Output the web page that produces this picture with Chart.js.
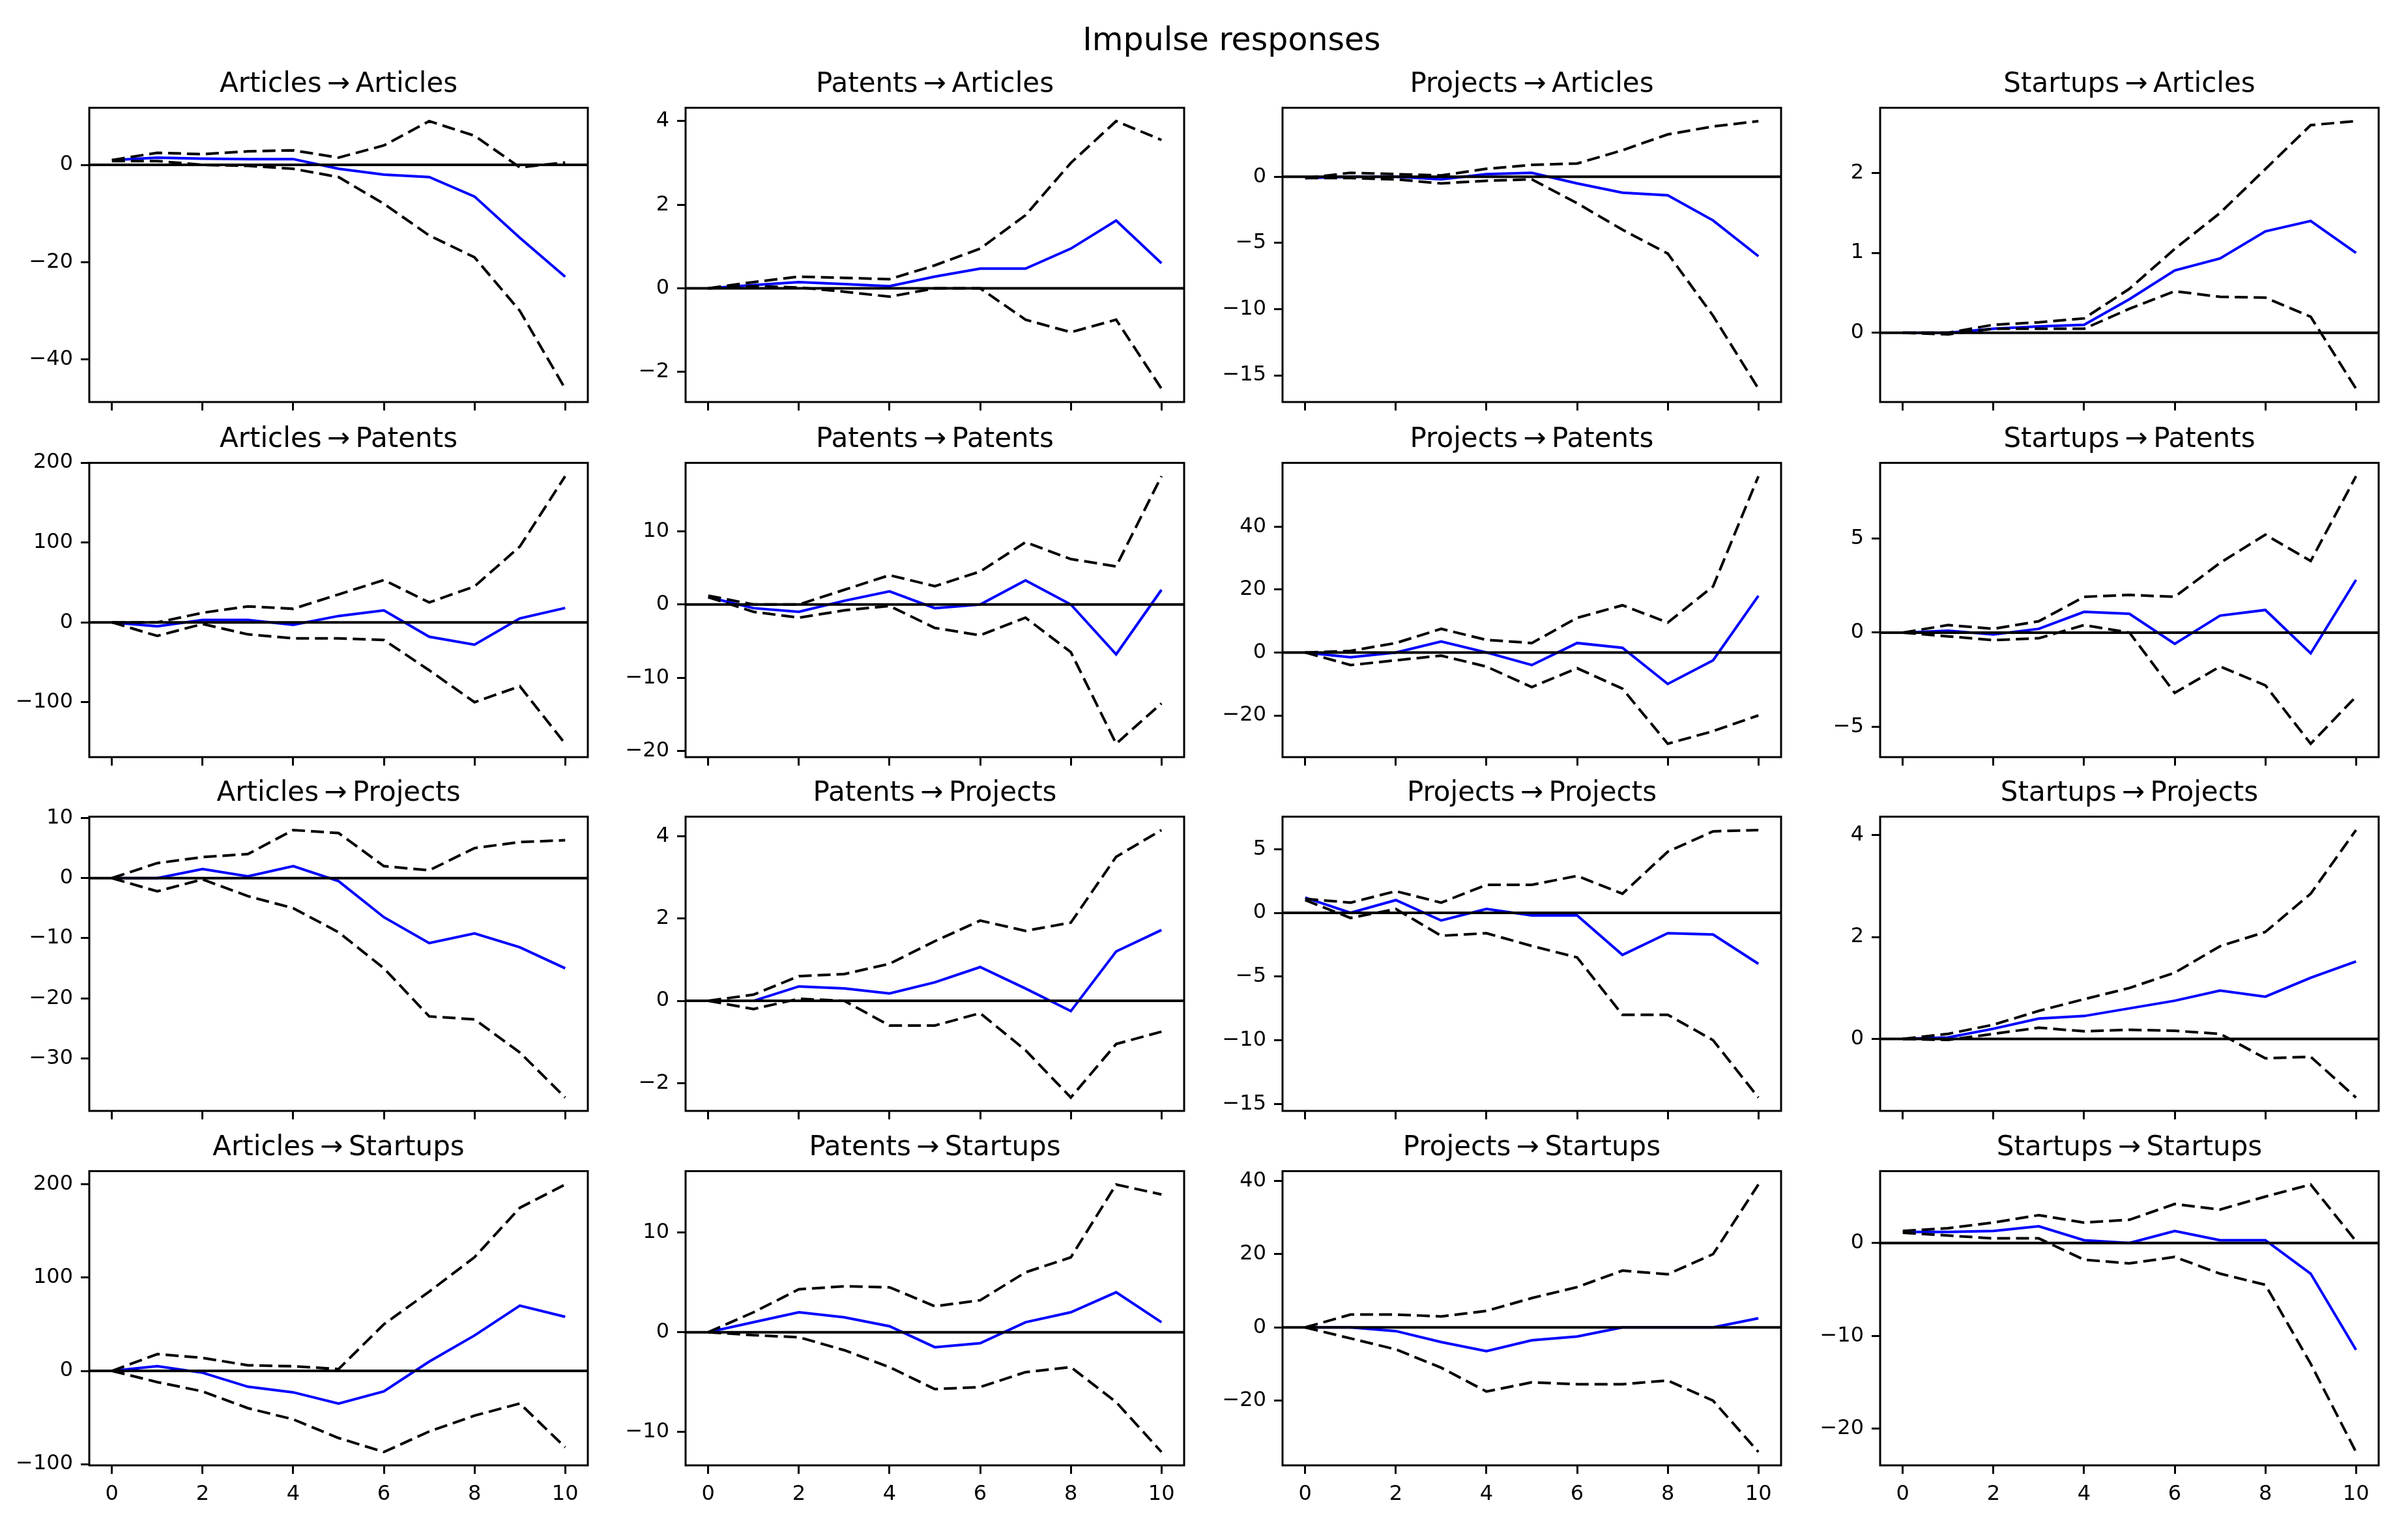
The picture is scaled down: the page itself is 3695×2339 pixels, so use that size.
<!DOCTYPE html>
<html>
<head>
<meta charset="utf-8">
<script src="https://cdn.jsdelivr.net/npm/chart.js@4.4.1/dist/chart.umd.min.js"></script>
<style>
  html, body { margin: 0; padding: 0; background: #fff; }
  #page { position: relative; width: 3695px; height: 2339px; overflow: hidden; background: #fff; }
  #suptitle {
    position: absolute; left: 1390px; width: 1000px; top: 36px;
    text-align: center; font-family: 'DejaVu Sans', sans-serif; font-size: 49px;
    line-height: 49px; color: #000;
  }
  canvas { position: absolute; }
</style>
</head>
<body>
<div id="page">
  <div id="suptitle">Impulse responses</div>
</div>
<script>
// Horizons and axis ticks
const horizons = [0, 1, 2, 3, 4, 5, 6, 7, 8, 9, 10];
const xTickValues = [0, 2, 4, 6, 8, 10];
const variableNames = ['Articles', 'Patents', 'Projects', 'Startups'];

// Response: Articles
const articlesToArticlesIrf   = [1, 1.5, 1.3, 1.2, 1.2, -0.8, -2, -2.5, -6.5, -15, -23];
const articlesToArticlesLower = [0.8, 0.8, 0, -0.2, -0.8, -2.5, -8, -14.5, -19, -30, -46];
const articlesToArticlesUpper = [1, 2.5, 2.2, 2.8, 3, 1.5, 4, 9, 6, -0.5, 0.5];
const articlesToArticlesTicks = [-40, -20, 0];

const patentsToArticlesIrf   = [0, 0.08, 0.15, 0.1, 0.05, 0.28, 0.47, 0.47, 0.95, 1.62, 0.6];
const patentsToArticlesLower = [0, 0.05, 0.02, -0.08, -0.2, 0, 0, -0.75, -1.05, -0.75, -2.4];
const patentsToArticlesUpper = [0, 0.15, 0.28, 0.25, 0.22, 0.55, 0.95, 1.75, 3.0, 4.0, 3.55];
const patentsToArticlesTicks = [-2, 0, 2, 4];

const projectsToArticlesIrf   = [-0.1, 0, 0, -0.2, 0.2, 0.3, -0.5, -1.2, -1.4, -3.3, -6];
const projectsToArticlesLower = [-0.1, -0.1, -0.2, -0.5, -0.3, -0.2, -2.0, -4.0, -5.8, -10.5, -16];
const projectsToArticlesUpper = [-0.1, 0.3, 0.2, 0.1, 0.6, 0.9, 1.0, 2.0, 3.2, 3.8, 4.2];
const projectsToArticlesTicks = [-15, -10, -5, 0];

const startupsToArticlesIrf   = [0, 0, 0.05, 0.08, 0.1, 0.42, 0.78, 0.93, 1.27, 1.4, 1.0];
const startupsToArticlesLower = [0, -0.02, 0.05, 0.05, 0.05, 0.3, 0.52, 0.45, 0.44, 0.2, -0.7];
const startupsToArticlesUpper = [0, 0, 0.1, 0.13, 0.18, 0.55, 1.05, 1.5, 2.05, 2.6, 2.65];
const startupsToArticlesTicks = [0, 1, 2];

// Response: Patents
const articlesToPatentsIrf   = [0, -5, 3, 3, -3, 8, 15, -18, -28, 5, 18];
const articlesToPatentsLower = [0, -17, -2, -15, -20, -20, -22, -60, -100, -80, -152];
const articlesToPatentsUpper = [0, 0, 12, 20, 17, 35, 53, 25, 45, 95, 183];
const articlesToPatentsTicks = [-100, 0, 100, 200];

const patentsToPatentsIrf   = [1, -0.5, -1, 0.5, 1.8, -0.5, 0, 3.3, 0, -6.8, 2];
const patentsToPatentsLower = [1, -1, -1.8, -0.8, -0.2, -3.2, -4.2, -1.8, -6.5, -19, -13.5];
const patentsToPatentsUpper = [1.2, 0, 0, 2, 4, 2.5, 4.5, 8.5, 6.2, 5.2, 17.5];
const patentsToPatentsTicks = [-20, -10, 0, 10];

const projectsToPatentsIrf   = [0, -1.5, 0, 3.5, 0, -4, 3, 1.5, -10, -2.5, 18];
const projectsToPatentsLower = [0, -4, -2.5, -1, -4.5, -11, -5, -11.5, -29, -25, -20];
const projectsToPatentsUpper = [0, 0.5, 3, 7.5, 4, 3, 11, 15, 9.5, 21, 56];
const projectsToPatentsTicks = [-20, 0, 20, 40];

const startupsToPatentsIrf   = [0, 0.1, -0.1, 0.2, 1.1, 1.0, -0.6, 0.9, 1.2, -1.1, 2.8];
const startupsToPatentsLower = [0, -0.2, -0.4, -0.3, 0.4, 0, -3.2, -1.8, -2.8, -5.9, -3.4];
const startupsToPatentsUpper = [0, 0.4, 0.2, 0.6, 1.9, 2, 1.9, 3.7, 5.2, 3.8, 8.3];
const startupsToPatentsTicks = [-5, 0, 5];

// Response: Projects
const articlesToProjectsIrf   = [0, 0, 1.5, 0.3, 2, -0.5, -6.5, -10.8, -9.2, -11.5, -15];
const articlesToProjectsLower = [0, -2.2, -0.2, -3, -5, -9, -15, -23, -23.5, -29, -36.5];
const articlesToProjectsUpper = [0, 2.5, 3.5, 4, 8, 7.5, 2, 1.3, 5, 6, 6.3];
const articlesToProjectsTicks = [-30, -20, -10, 0, 10];

const patentsToProjectsIrf   = [0, 0, 0.35, 0.3, 0.18, 0.45, 0.82, 0.3, -0.25, 1.2, 1.72];
const patentsToProjectsLower = [0, -0.2, 0.05, 0, -0.6, -0.6, -0.3, -1.2, -2.35, -1.05, -0.75];
const patentsToProjectsUpper = [0, 0.15, 0.6, 0.65, 0.9, 1.45, 1.95, 1.7, 1.9, 3.5, 4.15];
const patentsToProjectsTicks = [-2, 0, 2, 4];

const projectsToProjectsIrf   = [1.2, 0, 1, -0.6, 0.3, -0.2, -0.2, -3.3, -1.6, -1.7, -4];
const projectsToProjectsLower = [1.0, -0.4, 0.3, -1.8, -1.6, -2.6, -3.5, -8, -8, -10, -14.5];
const projectsToProjectsUpper = [1.1, 0.8, 1.7, 0.8, 2.2, 2.2, 2.9, 1.5, 4.8, 6.4, 6.5];
const projectsToProjectsTicks = [-15, -10, -5, 0, 5];

const startupsToProjectsIrf   = [0, 0.03, 0.2, 0.4, 0.45, 0.6, 0.75, 0.95, 0.83, 1.2, 1.52];
const startupsToProjectsLower = [0, -0.02, 0.1, 0.22, 0.15, 0.18, 0.16, 0.1, -0.38, -0.35, -1.15];
const startupsToProjectsUpper = [0, 0.1, 0.28, 0.55, 0.78, 1.0, 1.3, 1.82, 2.1, 2.85, 4.1];
const startupsToProjectsTicks = [0, 2, 4];

// Response: Startups
const articlesToStartupsIrf   = [0, 5, -2, -17, -23, -35, -22, 10, 38, 70, 58];
const articlesToStartupsLower = [0, -12, -22, -40, -52, -72, -87, -65, -48, -35, -82];
const articlesToStartupsUpper = [0, 18, 14, 6, 5, 2, 50, 85, 122, 175, 200];
const articlesToStartupsTicks = [-100, 0, 100, 200];

const patentsToStartupsIrf   = [0, 1, 2, 1.5, 0.6, -1.5, -1.1, 1.0, 2.0, 4.0, 1.0];
const patentsToStartupsLower = [0, -0.3, -0.5, -1.8, -3.5, -5.7, -5.5, -4.0, -3.5, -7, -12];
const patentsToStartupsUpper = [0, 2, 4.3, 4.6, 4.5, 2.6, 3.2, 6, 7.5, 14.8, 13.8];
const patentsToStartupsTicks = [-10, 0, 10];

const projectsToStartupsIrf   = [0, 0, -1, -4, -6.5, -3.5, -2.5, 0, 0, 0, 2.5];
const projectsToStartupsLower = [0, -3, -6, -11, -17.5, -15, -15.5, -15.5, -14.5, -20, -34];
const projectsToStartupsUpper = [0, 3.5, 3.5, 3, 4.5, 8, 11, 15.5, 14.5, 20, 39];
const projectsToStartupsTicks = [-20, 0, 20, 40];

const startupsToStartupsIrf   = [1.2, 1.2, 1.3, 1.8, 0.3, 0, 1.3, 0.3, 0.3, -3.3, -11.5];
const startupsToStartupsLower = [1.1, 0.8, 0.5, 0.5, -1.8, -2.2, -1.5, -3.3, -4.5, -13, -22.5];
const startupsToStartupsUpper = [1.3, 1.6, 2.2, 3.0, 2.2, 2.5, 4.2, 3.6, 5, 6.3, 0.2];
const startupsToStartupsTicks = [-20, -10, 0];

// One entry per subplot: impulse (column) -> response (row)
const panels = [
  ['Articles', 'Articles', articlesToArticlesIrf, articlesToArticlesLower, articlesToArticlesUpper, articlesToArticlesTicks],
  ['Patents', 'Articles', patentsToArticlesIrf, patentsToArticlesLower, patentsToArticlesUpper, patentsToArticlesTicks],
  ['Projects', 'Articles', projectsToArticlesIrf, projectsToArticlesLower, projectsToArticlesUpper, projectsToArticlesTicks],
  ['Startups', 'Articles', startupsToArticlesIrf, startupsToArticlesLower, startupsToArticlesUpper, startupsToArticlesTicks],
  ['Articles', 'Patents', articlesToPatentsIrf, articlesToPatentsLower, articlesToPatentsUpper, articlesToPatentsTicks],
  ['Patents', 'Patents', patentsToPatentsIrf, patentsToPatentsLower, patentsToPatentsUpper, patentsToPatentsTicks],
  ['Projects', 'Patents', projectsToPatentsIrf, projectsToPatentsLower, projectsToPatentsUpper, projectsToPatentsTicks],
  ['Startups', 'Patents', startupsToPatentsIrf, startupsToPatentsLower, startupsToPatentsUpper, startupsToPatentsTicks],
  ['Articles', 'Projects', articlesToProjectsIrf, articlesToProjectsLower, articlesToProjectsUpper, articlesToProjectsTicks],
  ['Patents', 'Projects', patentsToProjectsIrf, patentsToProjectsLower, patentsToProjectsUpper, patentsToProjectsTicks],
  ['Projects', 'Projects', projectsToProjectsIrf, projectsToProjectsLower, projectsToProjectsUpper, projectsToProjectsTicks],
  ['Startups', 'Projects', startupsToProjectsIrf, startupsToProjectsLower, startupsToProjectsUpper, startupsToProjectsTicks],
  ['Articles', 'Startups', articlesToStartupsIrf, articlesToStartupsLower, articlesToStartupsUpper, articlesToStartupsTicks],
  ['Patents', 'Startups', patentsToStartupsIrf, patentsToStartupsLower, patentsToStartupsUpper, patentsToStartupsTicks],
  ['Projects', 'Startups', projectsToStartupsIrf, projectsToStartupsLower, projectsToStartupsUpper, projectsToStartupsTicks],
  ['Startups', 'Startups', startupsToStartupsIrf, startupsToStartupsLower, startupsToStartupsUpper, startupsToStartupsTicks]
];

// Layout of the grid (pixels)
const plotLefts = [137, 1052, 1968, 2885];
const plotTops = [165, 710, 1253, 1797];
const plotW = 765;
const plotH = 452;
const yAxisW = 130;
const rightPad = 30;
const xAxisH = 90;
const titleSize = 42;
const titlePad = { top: 16, bottom: 10 };
const titleH = titlePad.top + titleSize * 1.2 + titlePad.bottom;
const font = 'DejaVu Sans';

function formatTick(v) {
  return v < 0 ? '\u2212' + Math.abs(v) : String(v);
}

function toPoints(values) {
  return horizons.map((h, i) => ({ x: h, y: values[i] }));
}

// zero line (axhline) and the box of spines
const framePlugin = {
  id: 'frame',
  afterDatasetsDraw(chart) {
    const { ctx, chartArea: a, scales } = chart;
    const y0 = scales.y.getPixelForValue(0);
    ctx.save();
    ctx.strokeStyle = '#000';
    ctx.lineWidth = 4;
    ctx.beginPath();
    ctx.moveTo(a.left, y0);
    ctx.lineTo(a.right, y0);
    ctx.stroke();
    ctx.lineWidth = 3;
    ctx.strokeRect(a.left, a.top, a.right - a.left, a.bottom - a.top);
    ctx.restore();
  }
};

const page = document.getElementById('page');

panels.forEach(([impulse, response, irf, lower, upper, yTicks]) => {
  const col = variableNames.indexOf(impulse);
  const row = variableNames.indexOf(response);
  const isBottom = row === variableNames.length - 1;

  // matplotlib style autoscale: data limits with 5% margins
  const all = irf.concat(lower, upper, [0]);
  const dataMin = Math.min(...all);
  const dataMax = Math.max(...all);
  const margin = (dataMax - dataMin) * 0.05;

  const canvas = document.createElement('canvas');
  canvas.width = yAxisW + plotW + rightPad;
  canvas.height = Math.round(titleH + plotH + xAxisH);
  canvas.style.left = (plotLefts[col] - yAxisW) + 'px';
  canvas.style.top = (plotTops[row] - titleH) + 'px';
  page.appendChild(canvas);

  new Chart(canvas.getContext('2d'), {
    type: 'line',
    data: {
      datasets: [
        { data: toPoints(upper), borderColor: '#000', borderWidth: 4, borderDash: [20, 9] },
        { data: toPoints(lower), borderColor: '#000', borderWidth: 4, borderDash: [20, 9] },
        { data: toPoints(irf), borderColor: '#0000ff', borderWidth: 4 }
      ]
    },
    options: {
      responsive: false,
      animation: false,
      devicePixelRatio: 1,
      elements: { point: { radius: 0 }, line: { tension: 0, fill: false } },
      layout: { padding: { left: 0, right: rightPad, top: 0, bottom: 0 } },
      plugins: {
        legend: { display: false },
        tooltip: { enabled: false },
        title: {
          display: true,
          fullSize: false,
          text: impulse + '\u2009\u2192\u2009' + response,
          color: '#000',
          font: { family: font, size: titleSize, weight: 'normal' },
          padding: titlePad
        }
      },
      scales: {
        x: {
          type: 'linear',
          min: -0.5,
          max: 10.5,
          bounds: 'data',
          afterBuildTicks: (s) => { s.ticks = xTickValues.map(v => ({ value: v })); },
          afterFit: (s) => { s.height = xAxisH; },
          border: { display: false },
          grid: { display: true, drawOnChartArea: false, drawTicks: true, tickLength: 13, lineWidth: 3, color: '#000' },
          ticks: {
            autoSkip: false,
            maxRotation: 0,
            padding: 12,
            color: '#000',
            font: { family: font, size: 32 },
            callback: (v) => isBottom ? formatTick(v) : ''
          }
        },
        y: {
          type: 'linear',
          min: dataMin - margin,
          max: dataMax + margin,
          bounds: 'data',
          afterBuildTicks: (s) => { s.ticks = yTicks.map(v => ({ value: v })); },
          afterFit: (s) => { s.width = yAxisW; },
          border: { display: false },
          grid: { display: true, drawOnChartArea: false, drawTicks: true, tickLength: 13, lineWidth: 3, color: '#000' },
          ticks: {
            autoSkip: false,
            padding: 12,
            color: '#000',
            font: { family: font, size: 32 },
            callback: (v) => formatTick(v)
          }
        }
      }
    },
    plugins: [framePlugin]
  });
});
</script>
</body>
</html>
